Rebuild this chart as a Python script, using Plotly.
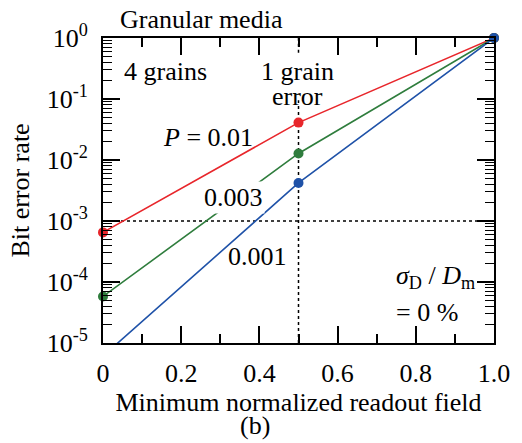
import plotly.graph_objects as go

# Bit error rate vs. minimum normalized readout field (4-grain granular medium)
readout_field = [0.0, 0.5, 1.0]
ber_p010 = [6.5e-4, 4.1e-2, 1.0]     # P = 0.01
ber_p003 = [5.8e-5, 1.28e-2, 1.0]    # P = 0.003
ber_p001 = [6.1e-6, 4.2e-3, 1.0]     # P = 0.001

series = [
    ("P = 0.01", ber_p010, "#e8262b"),
    ("P = 0.003", ber_p003, "#2f7d3d"),
    ("P = 0.001", ber_p001, "#1f52a8"),
]

y_min, y_max = 1e-5, 1.0
decades = [-5, -4, -3, -2, -1, 0]
y_tickvals = [10.0 ** d for d in decades]
y_ticktext = [f"10<sup>{d}</sup>" for d in decades]
y_minor = [k * 10.0 ** d for d in decades[:-1] for k in range(2, 10)]

x_tickvals = [0.0, 0.2, 0.4, 0.6, 0.8, 1.0]
x_ticktext = ["0", "0.2", "0.4", "0.6", "0.8", "1.0"]
x_minor = [0.1, 0.3, 0.5, 0.7, 0.9]

FONT = "Times New Roman, Liberation Serif, DejaVu Serif, serif"

fig = go.Figure()

# connecting lines
for name, ys, color in series:
    fig.add_trace(go.Scatter(
        x=readout_field, y=ys, mode="lines", name=name,
        line=dict(color=color, width=1.6), showlegend=False,
    ))

# dots at the computed points that fall inside the axis range
for name, ys, color in series:
    px = [x for x, y in zip(readout_field, ys) if y >= y_min]
    py = [y for y in ys if y >= y_min]
    fig.add_trace(go.Scatter(
        x=px, y=py, mode="markers", name=name, showlegend=False,
        marker=dict(color=color, size=10), cliponaxis=False,
    ))

# empty trace so the mirrored (top/right) tick axes are drawn
fig.add_trace(go.Scatter(x=[None], y=[None], xaxis="x2", yaxis="y2",
                         showlegend=False, hoverinfo="skip"))

# dotted guides: 1e-3 level and the 1-grain-error field (gap behind its label)
dot = dict(color="black", width=1.5, dash="dot")
fig.add_shape(type="line", xref="x", yref="y", x0=0, x1=1, y0=1e-3, y1=1e-3,
              line=dot, layer="below")
fig.add_shape(type="line", xref="x", yref="y", x0=0.5, x1=0.5,
              y0=y_min, y1=10 ** -1.02, line=dot, layer="below")
fig.add_shape(type="line", xref="x", yref="y", x0=0.5, x1=0.5,
              y0=10 ** -0.24, y1=y_max, line=dot, layer="below")

ann_font = dict(family=FONT, size=26, color="black")

def note(text, x, logy, **kw):
    fig.add_annotation(text=text, x=x, y=logy, xref="x", yref="y",
                       showarrow=False, font=ann_font, **kw)

def paper_note(text, x, y, **kw):
    fig.add_annotation(text=text, x=x, y=y, xref="paper", yref="paper",
                       xanchor="center", yanchor="middle",
                       showarrow=False, font=ann_font, **kw)

paper_note("Granular media", 0.253, 1.06)
note("4 grains", 0.159, -0.552)
note("1 grain", 0.497, -0.55, borderpad=0)
note("error", 0.497, -0.96, borderpad=0)
note("<i>P</i> = 0.01", 0.268, -1.634)
note("0.003", 0.334, -2.618, bgcolor="white")
note("0.001", 0.396, -3.58)
note("<i>σ</i><sub>D</sub> / <i>D</i><sub>m</sub>", 0.745, -3.91, xanchor="left")
note("= 0 %", 0.745, -4.50, xanchor="left")
paper_note("(b)", 0.389, -0.272)

tick_common = dict(
    showline=True, linecolor="black", linewidth=2,
    ticks="inside", ticklen=17, tickwidth=1.5, tickcolor="black",
    showgrid=False, zeroline=False,
    tickfont=dict(family=FONT, size=26, color="black"),
)
x_minor_spec = dict(tickmode="array", tickvals=x_minor, ticks="inside", ticklen=9,
                    tickwidth=1.5, tickcolor="black", showgrid=False)
y_minor_spec = dict(tickmode="array", tickvals=y_minor, ticks="inside", ticklen=9,
                    tickwidth=1.2, tickcolor="black", showgrid=False)

fig.update_layout(
    xaxis=dict(
        range=[0, 1], tickmode="array", tickvals=x_tickvals, ticktext=x_ticktext,
        minor=x_minor_spec,
        title=dict(text="Minimum normalized readout field",
                   font=dict(family=FONT, size=26, color="black"), standoff=4),
        ticklabelstandoff=6, **tick_common,
    ),
    yaxis=dict(
        type="log", range=[-5, 0], tickmode="array", tickvals=y_tickvals,
        ticktext=y_ticktext, minor=y_minor_spec,
        title=dict(text="Bit error rate",
                   font=dict(family=FONT, size=26, color="black"), standoff=10),
        ticklabelstandoff=8, **tick_common,
    ),
    xaxis2=dict(
        overlaying="x", side="top", range=[0, 1], tickmode="array",
        tickvals=x_tickvals, showticklabels=False, minor=x_minor_spec,
        **tick_common,
    ),
    yaxis2=dict(
        overlaying="y", side="right", type="log", range=[-5, 0], tickmode="array",
        tickvals=y_tickvals, showticklabels=False, minor=y_minor_spec,
        **tick_common,
    ),
    width=522, height=443,
    margin=dict(l=103, r=17, t=38, b=100),
    paper_bgcolor="white", plot_bgcolor="white",
    font=dict(family=FONT, size=26, color="black"),
)

fig.write_html("out.html")
